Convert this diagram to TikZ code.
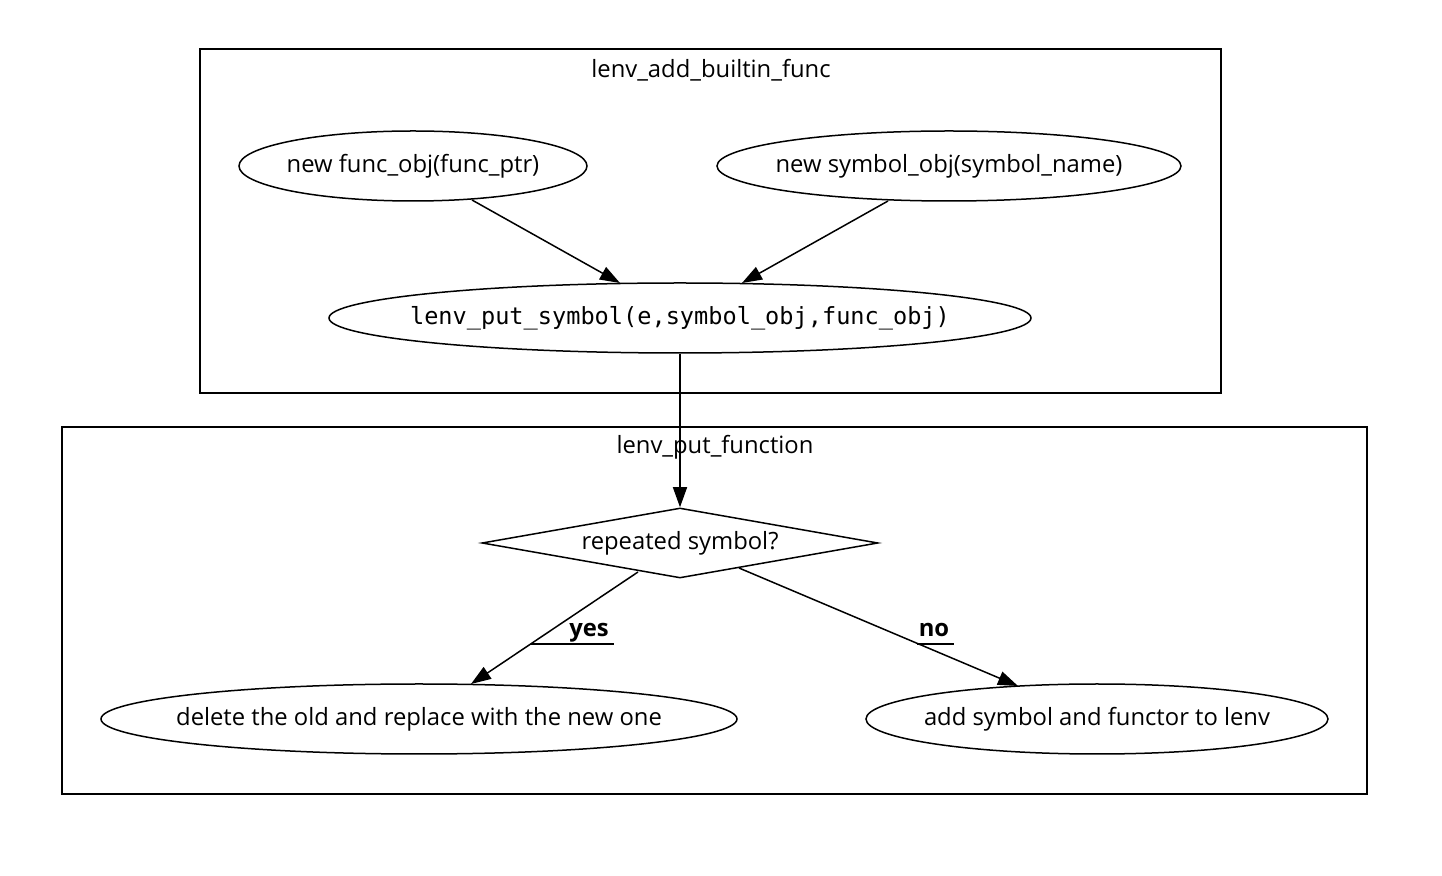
\documentclass[tikz,border=0pt]{standalone}
\usepackage{fontspec}
\setmainfont{Open Sans}
\newfontfamily\monof{DejaVu Sans Mono}
\usetikzlibrary{shapes.geometric,arrows.meta}
\begin{document}
\begin{tikzpicture}[x=0.5pt,y=-0.5pt,
  every node/.style={font=\fontsize{11.9}{14}\selectfont},
  ell/.style={draw,ellipse,line width=0.75pt,inner sep=0pt,minimum height=35pt},
  clus/.style={draw,line width=0.75pt},
  arr/.style={line width=0.75pt,-{Triangle[length=10pt,width=7pt]}},
  lab/.style={font=\fontsize{11.9}{14}\selectfont\bfseries,inner sep=0pt,anchor=base},
  uline/.style={line width=0.75pt}]
\useasboundingbox (0,0) rectangle (1442,876);
% clusters
\draw[clus] (200,49) rectangle (1221,393);
\node (t1) at (711,70) {lenv\_add\_builtin\_func};
\draw[clus] (62,427) rectangle (1367,794);
\node (t2) at (715,447) {lenv\_put\_function};
% nodes
\node[ell,minimum width=174pt,label=center:{new func\_obj(func\_ptr)}] (a) at (413,166) {};
\node[ell,minimum width=232pt,label=center:{new symbol\_obj(symbol\_name)}] (b) at (949,166) {};
\node[ell,minimum width=351pt,label=center:{\monof\fontsize{11.8}{14}\selectfont lenv\_put\_symbol(e,symbol\_obj,func\_obj)}] (c) at (680,318) {};
\node[draw,line width=0.75pt,shape=diamond,minimum width=198pt,minimum height=35pt,inner sep=0pt,aspect=5.66,label=center:{repeated symbol?}] (d) at (680,543) {};
\node[ell,minimum width=318pt,label=center:{delete the old and replace with the new one}] (e) at (419,719) {};
\node[ell,minimum width=231pt,label=center:{add symbol and functor to lenv}] (f) at (1097,719) {};
% edges
\coordinate (ca1) at (620,283);
\coordinate (cb1) at (742,283);
\draw[arr] (472,200) -- (ca1);
\draw[arr] (888,201) -- (cb1);
\draw[arr] (c.south) -- (d.north);
\coordinate (d1) at (638,572);
\coordinate (e1) at (471,684);
\coordinate (d2) at (739,568);
\coordinate (f1) at (1018,686);
\draw[arr] (d1) -- (e1);
\draw[arr] (d2) -- (f1);
% labels
\node[lab] (yes) at (589,637) {yes};
\coordinate (y1) at (531,644);
\coordinate (y2) at (614,644);
\draw[uline] (y1) -- (y2);
\node[lab] (no) at (934,637) {no};
\coordinate (n1) at (917,644);
\coordinate (n2) at (954,644);
\draw[uline] (n1) -- (n2);
\end{tikzpicture}
\end{document}
